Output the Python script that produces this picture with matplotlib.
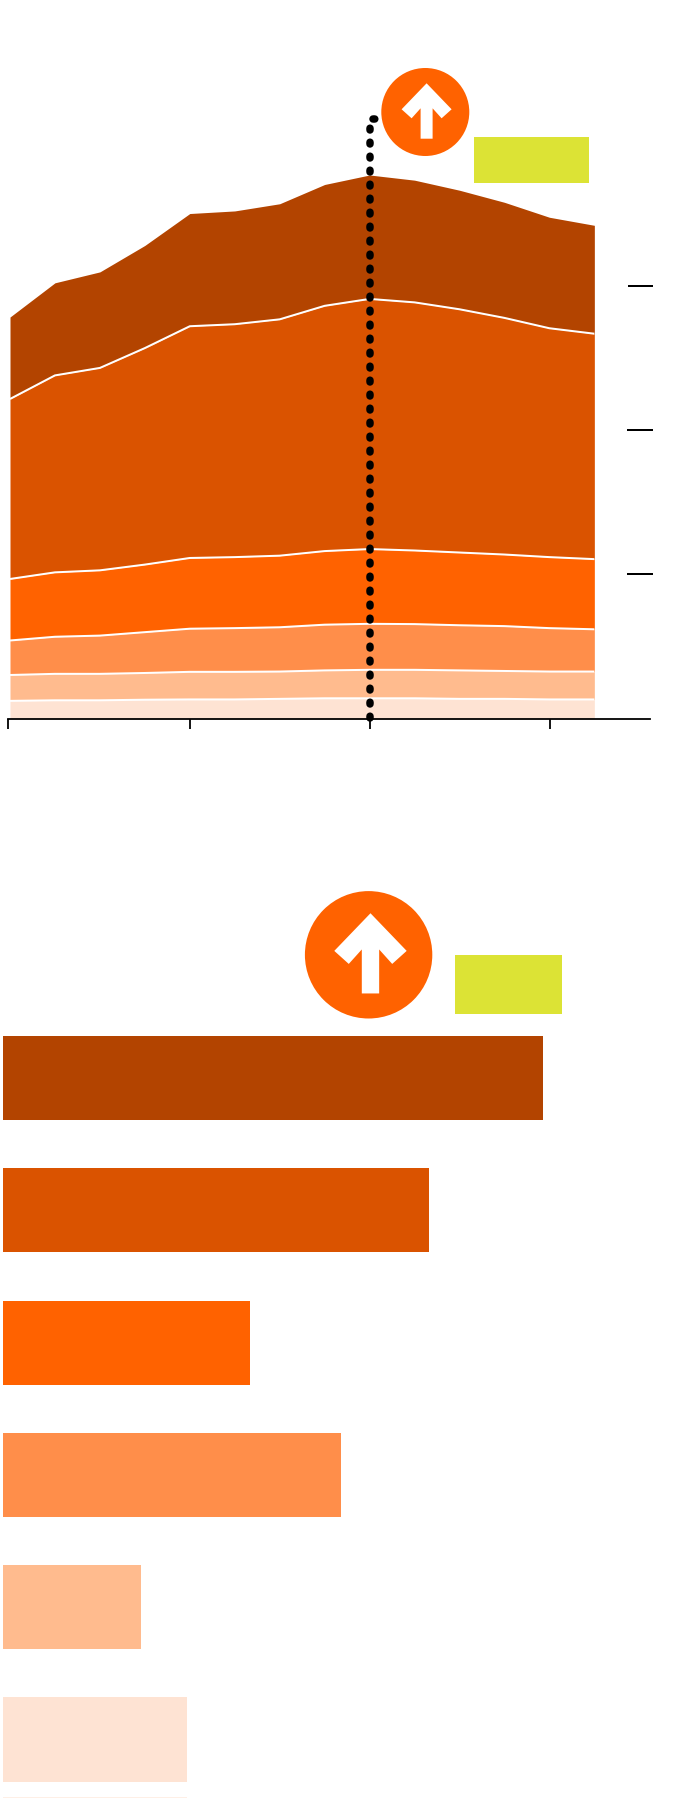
import matplotlib
matplotlib.use("Agg")
import matplotlib.pyplot as plt
from matplotlib.patches import Circle, Polygon, Rectangle

W, H = 690, 1798
DPI = 100
PX = 72 / DPI

# ---- Area chart data (cumulative band tops, one list per boundary) ----
steps = list(range(14))
top_6 = [62, 64, 64, 66, 67, 67, 69, 71, 71, 71, 69, 69, 67, 67]
top_5 = [152, 156, 156, 159, 163, 163, 164, 168, 170, 170, 168, 166, 164, 164]
top_4 = [272, 285, 289, 301, 313, 315, 318, 327, 330, 329, 325, 322, 315, 311]
top_3 = [486, 509, 516, 536, 559, 562, 567, 583, 590, 585, 578, 571, 562, 555]
top_2 = [1112, 1194, 1220, 1289, 1365, 1372, 1389, 1436, 1460, 1448, 1424, 1394, 1358, 1339]
top_1 = [1397, 1516, 1554, 1646, 1757, 1766, 1791, 1858, 1891, 1873, 1838, 1796, 1744, 1716]
y_ticks = [503, 1003, 1505]
y_tick_starts = [13.72, 13.72, 13.75]
x_ticks = [4, 8, 12.02]
marker_step = 8
marker_top = 2085

# ---- Bar chart data ----
bar_values = [540, 426, 247, 338, 138, 183.6]

colors = ["#b34400", "#da5300", "#ff6200", "#ff8e4a", "#ffbb8e", "#fee3d3"]
yellow = "#dce335"

fig = plt.figure(figsize=(W / DPI, H / DPI), dpi=DPI, facecolor="white")


def axes_px(x0, y0, x1, y1, **kw):
    return fig.add_axes([x0 / W, 1 - y1 / H, (x1 - x0) / W, (y1 - y0) / H], **kw)


# ---- Area chart ----
STEP_PX = 44.95
X0_PX = 10.0
AX_L, AX_R, AX_T, AX_B = 8.0, 650.0, 40.0, 718.7
ax = axes_px(AX_L, AX_T, AX_R, AX_B)
ax.patch.set_alpha(0)
ax.set_xlim((AX_L - X0_PX) / STEP_PX, (AX_R - X0_PX) / STEP_PX)
ax.set_ylim(0, (AX_B - AX_T) * 3.478)

tops = [top_1, top_2, top_3, top_4, top_5, top_6]
bases = tops[1:] + [[0] * len(steps)]
for t, b, c in zip(tops, bases, colors):
    ax.fill_between(steps, b, t, color=c, linewidth=0, zorder=2)
for t in tops[1:]:
    ax.plot(steps, t, color="white", lw=2.0 * PX, zorder=3, solid_capstyle="butt")

for s in ("top", "left", "right"):
    ax.spines[s].set_visible(False)
ax.spines["bottom"].set_linewidth(1.8 * PX)
ax.spines["bottom"].set_zorder(5)
ax.set_xticks([ax.get_xlim()[0]] + x_ticks)
ax.set_xticklabels([])
ax.set_yticks([])
ax.tick_params(axis="x", length=9.5 * PX, width=1.8 * PX, color="black")

ax.hlines(y_ticks, y_tick_starts, 14.3, color="black", lw=2.0 * PX, clip_on=False, zorder=4)

dot_w = 7.5
ax.plot([marker_step, marker_step, marker_step + 0.13],
        [2, marker_top, marker_top],
        color="black", lw=dot_w * PX, zorder=6, clip_on=False,
        linestyle=(0, (1.8 / dot_w, 12.2 / dot_w)), dash_capstyle="round",
        dash_joinstyle="round")

# ---- Bar chart ----
BAR_T, BAR_B = 1020.0, H
bx = axes_px(3, BAR_T, W, BAR_B)
bx.axis("off")
bx.set_xlim(0, W - 3)
C0, PITCH = 1078.1, 132.3
bx.set_ylim((BAR_B - C0) / PITCH, (BAR_T - C0) / PITCH)
bx.barh(range(len(bar_values)), bar_values, height=84.2 / PITCH, color=colors, linewidth=0)
# sliver of the next bar showing at the very bottom of the picture
bx.barh([(1799 - C0) / PITCH], [bar_values[-1]], height=4 / PITCH, color=colors[-1], alpha=0.55, linewidth=0)

# ---- Overlay annotations, pixel space ----
ov = axes_px(0, 0, W, H)
ov.set_xlim(0, W)
ov.set_ylim(H, 0)
ov.axis("off")
ov.patch.set_alpha(0)

ARROW = [(1.3, -28.7), (26.3, -2.7), (16.3, 6.3), (7.3, -3.7), (7.3, 26.7), (-4.7, 26.7),
         (-4.7, -3.7), (-13.7, 6.3), (-23.7, -2.7)]


def badge(cx, cy, r):
    ov.add_patch(Circle((cx, cy), r, color=colors[2], lw=0, zorder=8))
    k = r / 44.0
    ov.add_patch(Polygon([(cx + k * a, cy + k * b) for a, b in ARROW], closed=True,
                         color="white", lw=0, zorder=9))


badge(425.3, 112, 44)
badge(368.6, 954.8, 63.7)
ov.add_patch(Rectangle((474, 137), 115.3, 45.7, facecolor=yellow, edgecolor="none", lw=0, zorder=8))
ov.add_patch(Rectangle((455, 954.5), 107.3, 59.2, facecolor=yellow, edgecolor="none", lw=0, zorder=8))

fig.savefig("out.png", dpi=DPI, facecolor="white")
